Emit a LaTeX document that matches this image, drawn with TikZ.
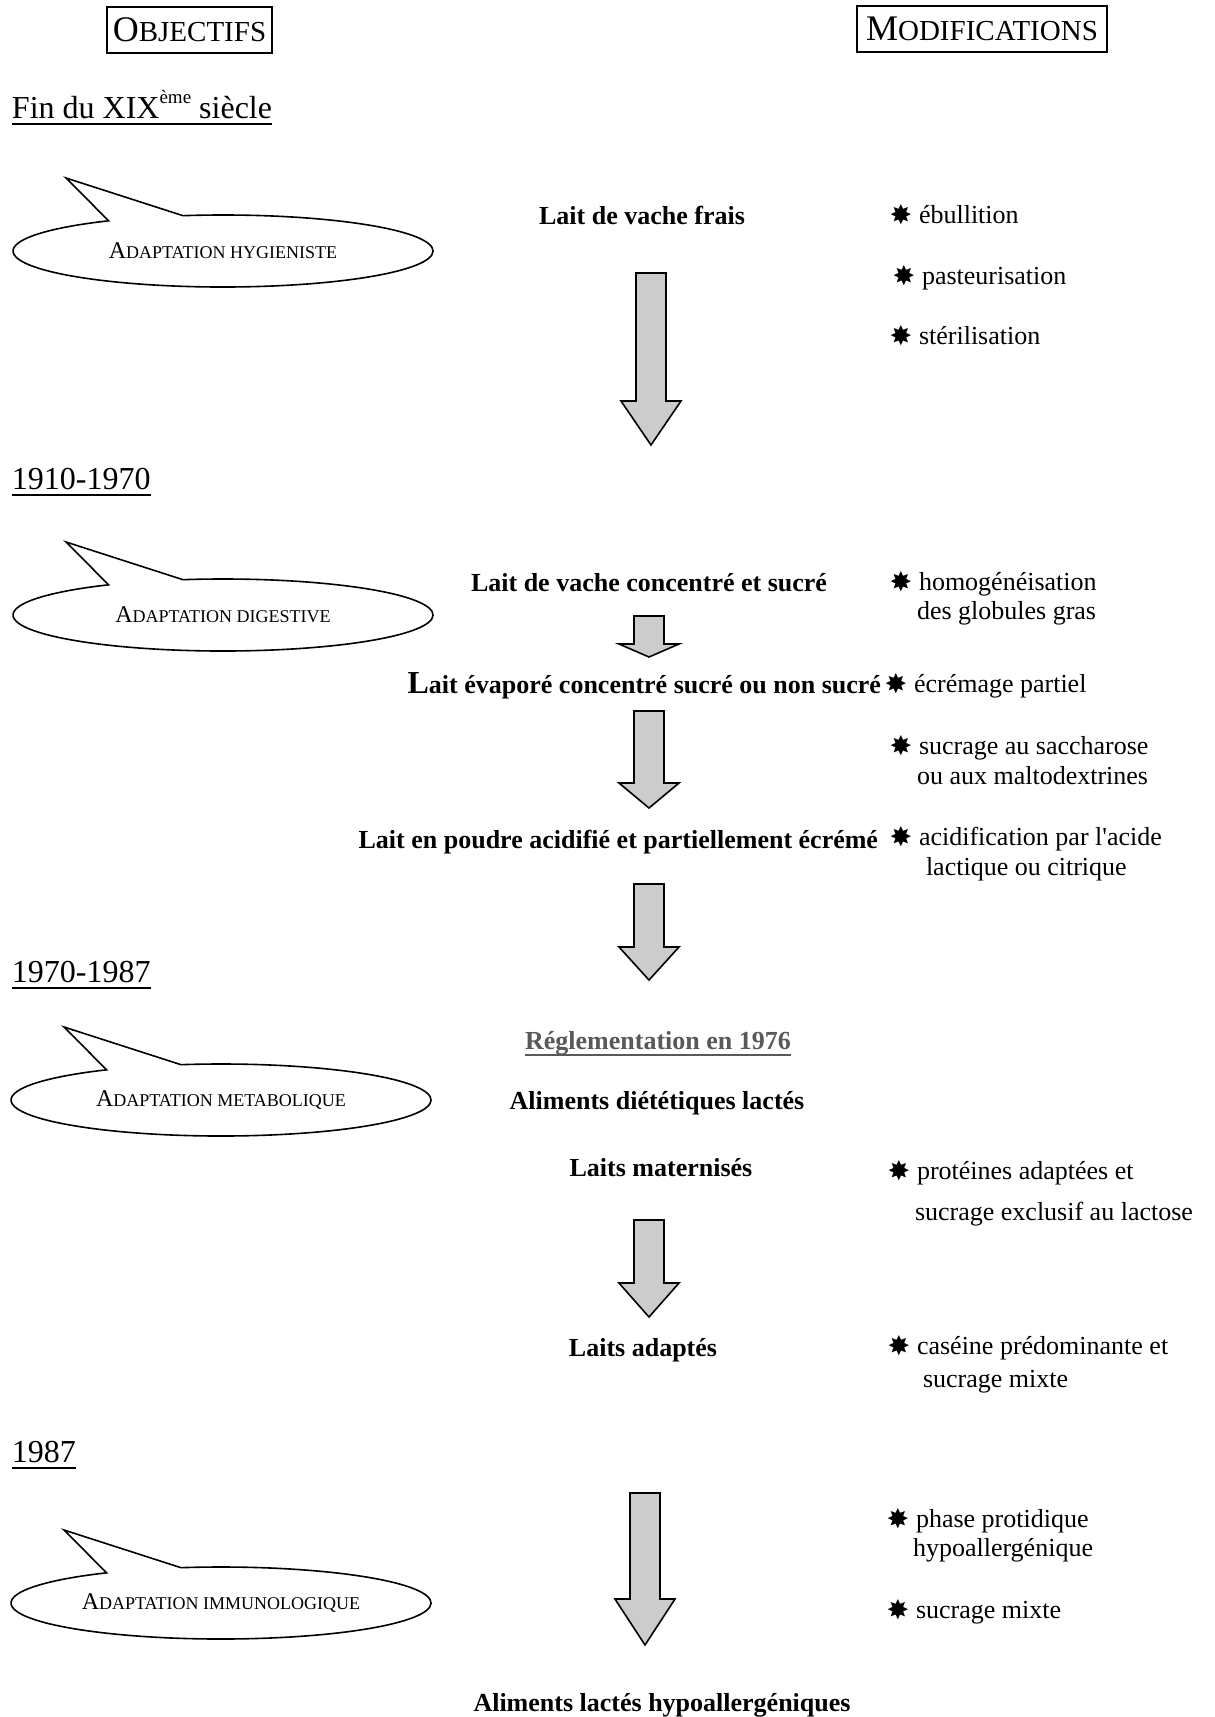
\documentclass[tikz,border=0pt]{standalone}
\usepackage{fontspec}
\setmainfont{Liberation Serif}
\newfontfamily\symf{DejaVu Sans}
\newcommand\bodyfs{\fontsize{26}{30}\selectfont}
\newcommand\starb{\makebox[14pt]{\raisebox{-1pt}{\symf\fontsize{27}{28}\selectfont ✸}}\hspace{11pt}}
\newcommand\bgcap[1]{{\fontsize{24}{26}\selectfont #1}}
\newcommand\smcap[1]{{\fontsize{18}{20}\selectfont #1}}
\newcommand\calloutshape[4]{%
  \draw[bubble] (#2,#3) ++(-101:210 and 36) arc[start angle=-101,end angle=237,x radius=210,y radius=36] -- (#2-157,#3-73) -- cycle;
  \node[bubbletext] (#1) at (#2,#3) {#4};}
\newcommand\blockarrow[5]{%
  \draw[barrow] (#2-15,#3) -- (#2+15,#3) -- (#2+15,#4) -- (#2+30,#4) -- (#2,#5) coordinate (#1) -- (#2-30,#4) -- (#2-15,#4) -- cycle;}
\begin{document}
\begin{tikzpicture}[x=1pt,y=-1pt,
  every node/.style={inner sep=0pt, outer sep=0pt},
  titlebox/.style={draw, line width=1.6pt, minimum width=165pt, minimum height=46pt},
  period/.style={anchor=base west, font=\fontsize{32}{36}\selectfont},
  uline/.style={line width=1.5pt},
  center/.style={anchor=base, font=\bodyfs\bfseries},
  centere/.style={anchor=base east, font=\bodyfs\bfseries},
  mod/.style={anchor=base west, font=\bodyfs},
  bubble/.style={draw, line width=1.6pt, fill=white, line join=miter},
  bubbletext/.style={anchor=center},
  barrow/.style={draw, line width=1.6pt, fill=black!20, line join=miter}]
\fill[white] (0,0) rectangle (1215,1717);
\useasboundingbox (0,0) rectangle (1215,1717);

% headers
\node[titlebox] (obj) at (189.5,30) {{\fontsize{36}{40}\selectfont O}{\fontsize{29}{32}\selectfont BJECTIFS}};
\node[titlebox, minimum width=250pt] (modif) at (982,29) {{\fontsize{36}{40}\selectfont M}{\fontsize{29}{32}\selectfont ODIFICATIONS}};

% periods
\node[period] (p1) at (12,118) {Fin du XIX\raisebox{0.45em}{\fontsize{19}{20}\selectfont ème} siècle};
\draw[uline] ([yshift=-6pt]p1.base west) -- ([yshift=-6pt]p1.base east);
\node[period] (p2) at (12,489) {1910-1970};
\draw[uline] ([yshift=-6pt]p2.base west) -- ([yshift=-6pt]p2.base east);
\node[period] (p3) at (12,982) {1970-1987};
\draw[uline] ([yshift=-6pt]p3.base west) -- ([yshift=-6pt]p3.base east);
\node[period] (p4) at (12,1462) {1987};
\draw[uline] ([yshift=-6pt]p4.base west) -- ([yshift=-6pt]p4.base east);

% callouts
\calloutshape{c1}{223}{251}{\bgcap{A}\smcap{DAPTATION HYGIENISTE}}
\calloutshape{c2}{223}{615}{\bgcap{A}\smcap{DAPTATION DIGESTIVE}}
\calloutshape{c3}{221}{1100}{\bgcap{A}\smcap{DAPTATION METABOLIQUE}}
\calloutshape{c4}{221}{1603}{\bgcap{A}\smcap{DAPTATION IMMUNOLOGIQUE}}

% central column
\node[center] (t1) at (642,224) {Lait de vache frais};
\blockarrow{a1}{651}{273}{401}{445}
\node[center] (t2) at (649,591) {Lait de vache concentré et sucré};
\blockarrow{a2}{649}{616}{644}{657}
\node[centere] (t3) at (881,693) {{\fontsize{32}{36}\selectfont L}ait évaporé concentré sucré ou non sucré};
\blockarrow{a3}{649}{711}{783}{808}
\node[centere] (t4) at (878,848) {Lait en poudre acidifié et partiellement écrémé};
\blockarrow{a4}{649}{884}{947}{980}
\node[center, text=black!65] (t5) at (658,1049) {Réglementation en 1976};
\draw[uline, black!65] ([yshift=-6pt]t5.base west) -- ([yshift=-6pt]t5.base east);
\node[center] (t6) at (657,1109) {Aliments diététiques lactés};
\node[center] (t7) at (661,1176) {Laits maternisés};
\blockarrow{a5}{649}{1220}{1283}{1317}
\node[center] (t8) at (643,1356) {Laits adaptés};
\blockarrow{a6}{645}{1493}{1599}{1645}
\node[center] (t9) at (662,1711) {Aliments lactés hypoallergéniques};

% modifications
\node[mod] (m1) at (894,223) {\starb ébullition};
\node[mod] (m2) at (897,284) {\starb pasteurisation};
\node[mod] (m3) at (894,344) {\starb stérilisation};
\node[mod] (m4) at (894,590) {\starb homogénéisation};
\node[mod] (m4b) at (917,619) {des globules gras};
\node[mod] (m5) at (889,692) {\starb écrémage partiel};
\node[mod] (m6) at (894,754) {\starb sucrage au saccharose};
\node[mod] (m6b) at (917,784) {ou aux maltodextrines};
\node[mod] (m7) at (894,845) {\starb acidification par l\textquotesingle acide};
\node[mod] (m7b) at (926,875) {lactique ou citrique};
\node[mod] (m8) at (892,1179) {\starb protéines adaptées et};
\node[mod] (m8b) at (915,1220) {sucrage exclusif au lactose};
\node[mod] (m9) at (892,1354) {\starb caséine prédominante et};
\node[mod] (m9b) at (923,1387) {sucrage mixte};
\node[mod] (m10) at (891,1527) {\starb phase protidique};
\node[mod] (m10b) at (913,1556) {hypoallergénique};
\node[mod] (m11) at (891,1618) {\starb sucrage mixte};
\end{tikzpicture}
\end{document}
